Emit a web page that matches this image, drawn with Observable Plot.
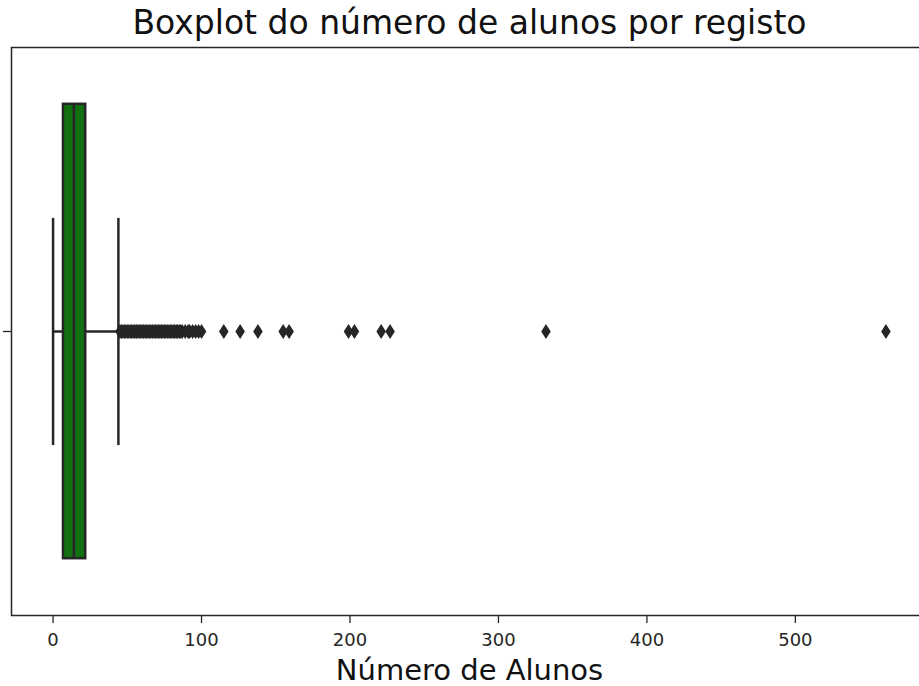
<!DOCTYPE html>
<html>
<head>
<meta charset="utf-8">
<script src="https://cdn.jsdelivr.net/npm/d3@7"></script>
<script src="https://cdn.jsdelivr.net/npm/@observablehq/plot@0.6"></script>
<style>
  html, body { margin: 0; padding: 0; background: #fff; overflow: hidden; }
  #chart { width: 919px; height: 686px; overflow: hidden; }
  #chart svg { max-width: none !important; }
</style>
</head>
<body>
<div id="chart"></div>
<script>
// ---- data ----
const chartTitle = "Boxplot do número de alunos por registo";
const xLabel = "Número de Alunos";
const xTicks = [0, 100, 200, 300, 400, 500];

// box statistics
const q1 = [7];
const median = [14];
const q3 = [22];
const whiskerLow = [0];
const whiskerHigh = [44];

// outliers (values beyond the upper whisker)
const outliers = [
  45, 46, 47, 48, 49, 50, 51, 52, 53, 54, 55, 56, 57, 58, 59, 60, 61, 62, 63, 64,
  65, 66, 67, 68, 69, 70, 71, 72, 73, 74, 75, 76, 77, 78, 79, 80, 81, 82, 83, 84,
  85, 86, 87, 89, 91, 92, 94, 96, 98, 100,
  115, 126, 138, 155, 159, 199, 203, 221, 227, 332, 561
];

// ---- build ----
const box = [{q1: q1[0], median: median[0], q3: q3[0], lo: whiskerLow[0], hi: whiskerHigh[0]}];
const outlierRows = outliers.map(v => ({v}));

const ink = "#262626";
const boxFill = "#107010";

const thinDiamond = {
  draw(context, size) {
    const r = Math.sqrt(size / Math.PI);
    const w = r * 0.65;
    context.moveTo(0, -r);
    context.lineTo(w, 0);
    context.lineTo(0, r);
    context.lineTo(-w, 0);
    context.closePath();
  }
};

const plot = Plot.plot({
  width: 930,
  height: 686,
  marginLeft: 11,
  marginRight: 3,
  marginTop: 47,
  marginBottom: 71,
  style: {fontFamily: "DejaVu Sans", fontSize: "18px", color: ink, background: "white", maxWidth: "none"},
  x: {domain: [-28, 589], ticks: xTicks},
  y: {domain: [0.5, -0.5]},
  marks: [
    // whiskers
    Plot.link(box, {x1: "lo", x2: "q1", y1: 0, y2: 0, stroke: ink, strokeWidth: 2.5}),
    Plot.link(box, {x1: "q3", x2: "hi", y1: 0, y2: 0, stroke: ink, strokeWidth: 2.5}),
    // caps
    Plot.link(box, {x1: "lo", x2: "lo", y1: -0.2, y2: 0.2, stroke: ink, strokeWidth: 2.5}),
    Plot.link(box, {x1: "hi", x2: "hi", y1: -0.2, y2: 0.2, stroke: ink, strokeWidth: 2.5}),
    // box
    Plot.rect(box, {x1: "q1", x2: "q3", y1: -0.4, y2: 0.4, fill: boxFill, stroke: ink, strokeWidth: 2.5}),
    // median
    Plot.link(box, {x1: "median", x2: "median", y1: -0.4, y2: 0.4, stroke: ink, strokeWidth: 2.5}),
    // outliers
    Plot.dot(outlierRows, {x: "v", y: 0, r: 6, symbol: thinDiamond, fill: ink, stroke: ink, strokeWidth: 1.5}),
    // axes
    Plot.axisX({ticks: xTicks, tickSize: 8, tickPadding: 10, label: null, stroke: ink, strokeWidth: 1.3, fill: ink}),
    Plot.axisY({ticks: [0], tickSize: 8, tickFormat: () => "", label: null, stroke: ink, strokeWidth: 1.3}),
    Plot.frame({stroke: ink, strokeWidth: 1.5}),
    // title and axis label
    Plot.text([chartTitle], {frameAnchor: "top", lineAnchor: "middle", dy: -24, fontSize: 33, fill: "#111"}),
    Plot.text([xLabel], {frameAnchor: "bottom", lineAnchor: "middle", dy: 55, fontSize: 29, fill: "#111"})
  ]
});
document.getElementById("chart").appendChild(plot);
</script>
</body>
</html>
